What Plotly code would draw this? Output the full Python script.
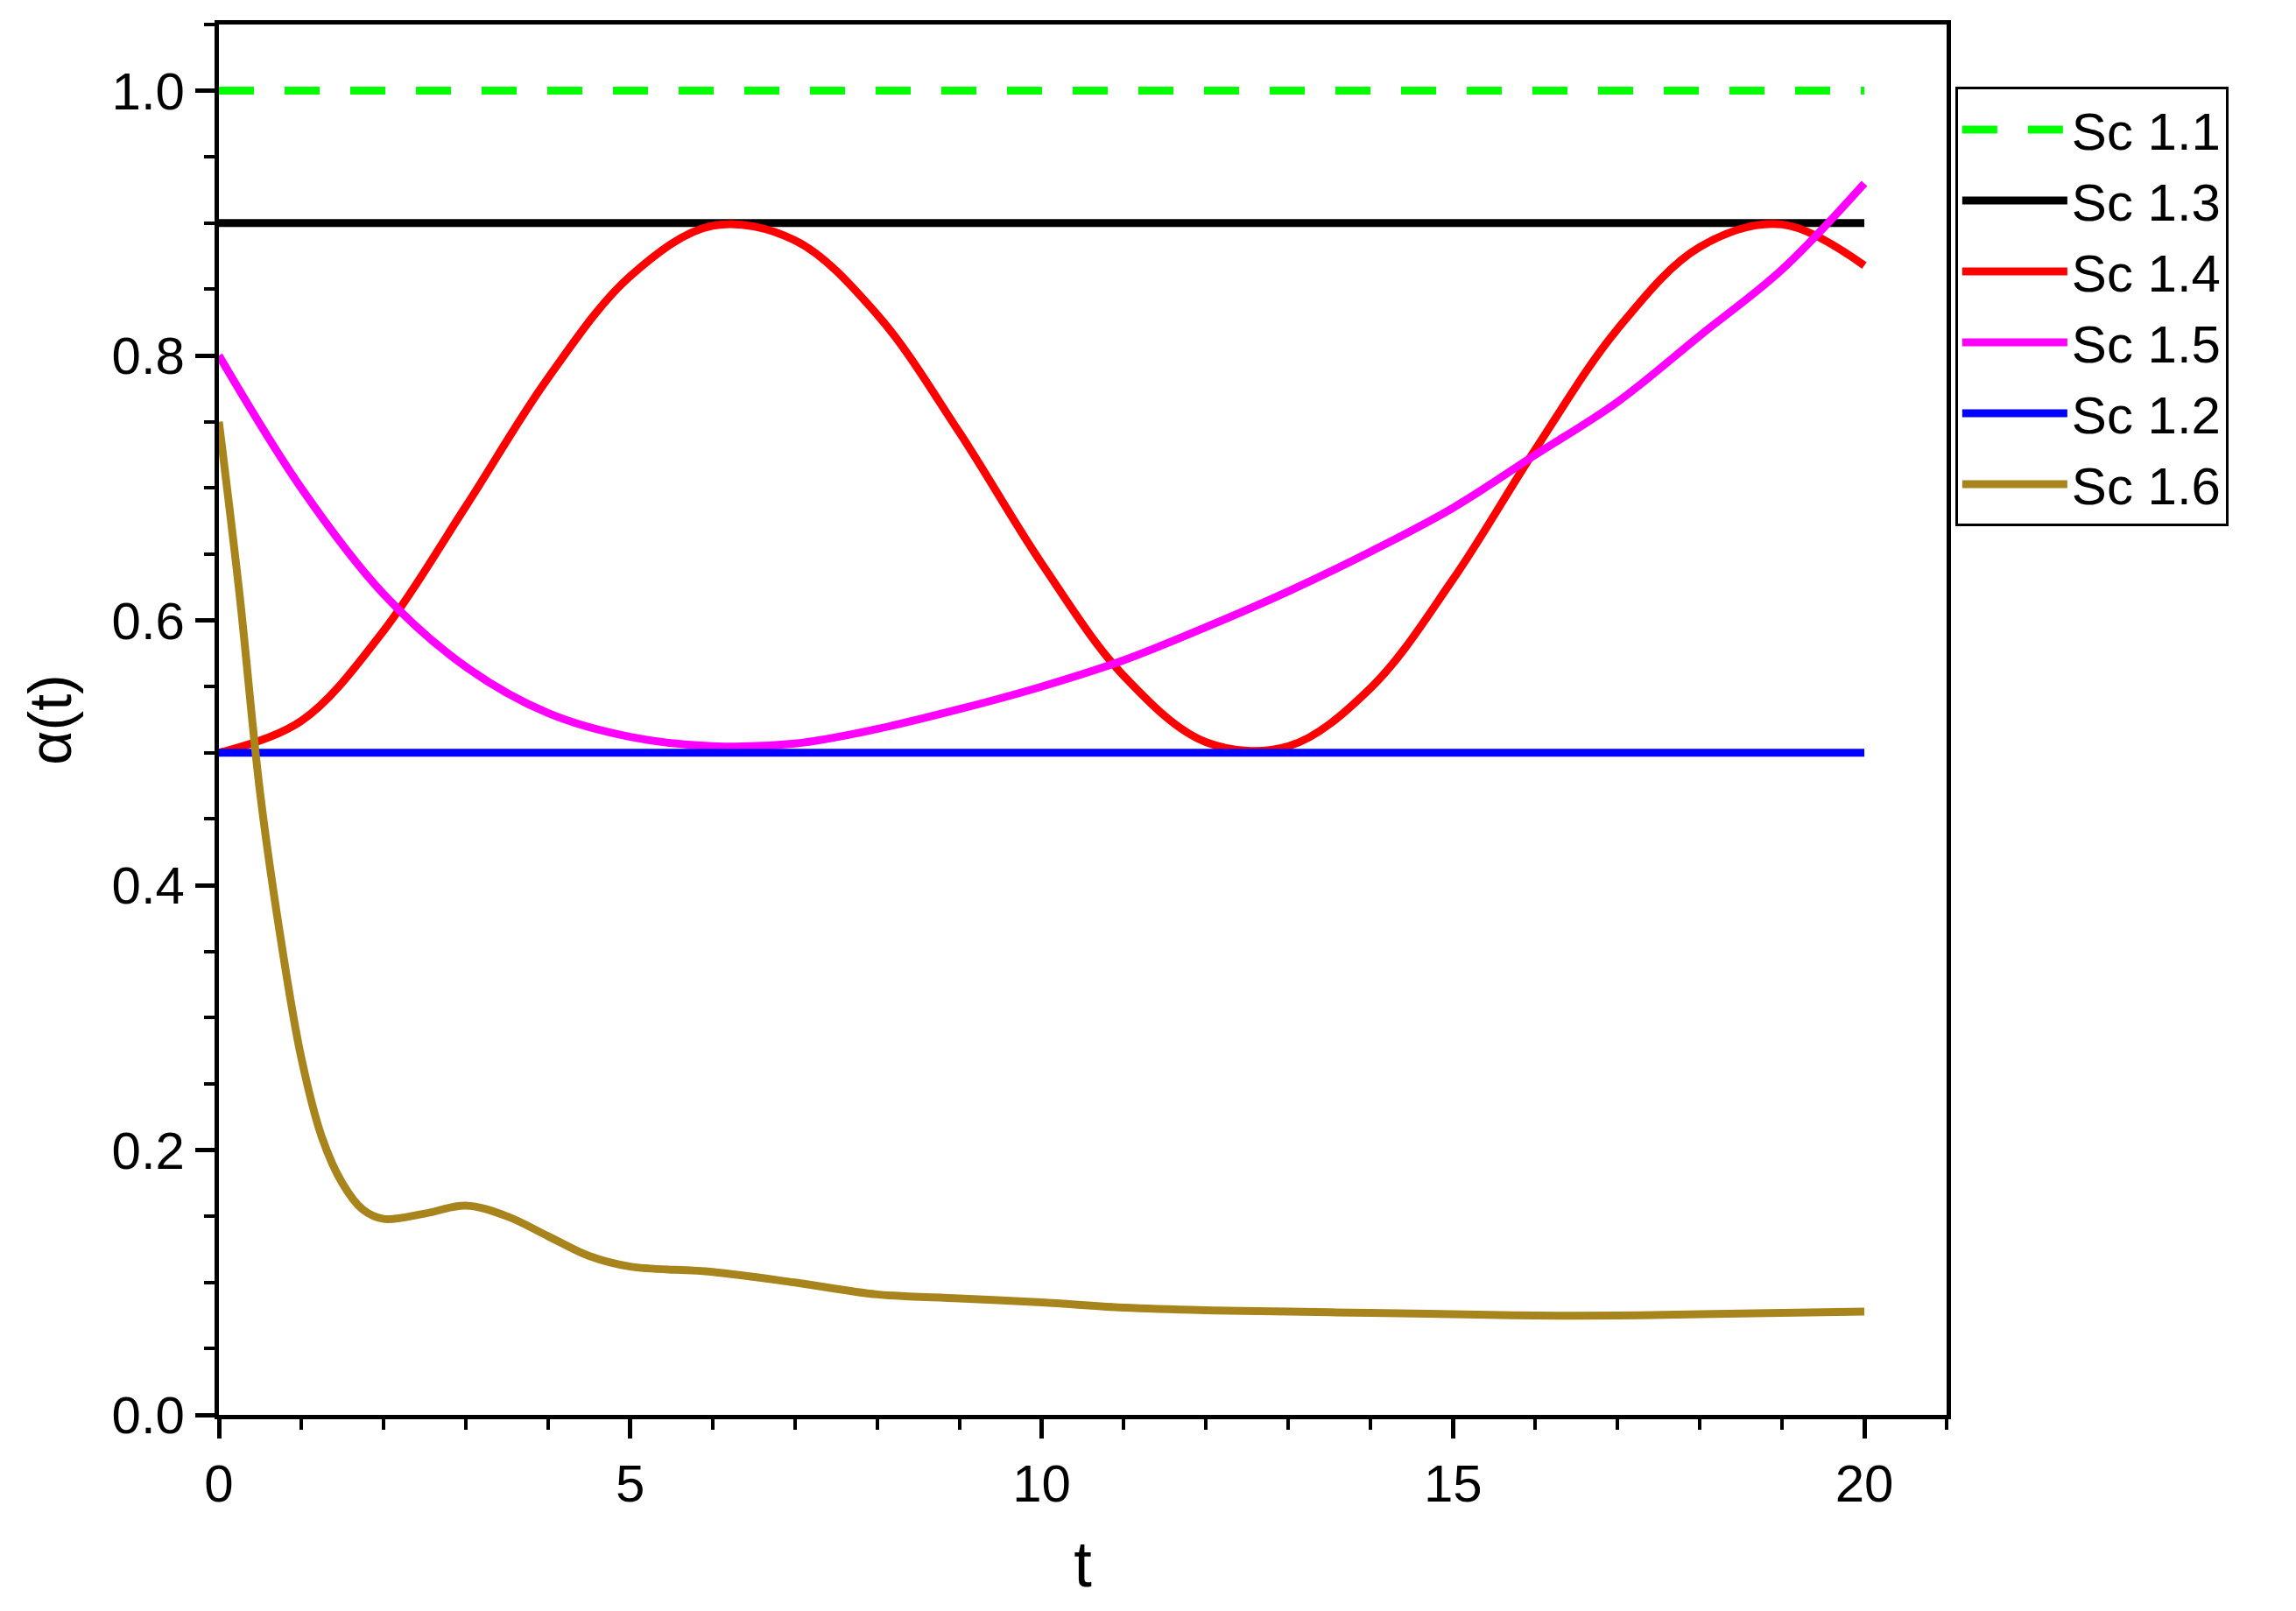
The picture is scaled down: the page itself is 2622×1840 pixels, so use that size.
import plotly.graph_objects as go

t_int = list(range(21))
red = [0.500,0.524,0.592,0.686,0.783,0.860,0.898,0.887,0.831,0.742,0.643,0.558,0.508,0.505,0.549,0.631,0.729,0.820,0.882,0.899,0.868]
mag = [0.80,0.70,0.62,0.565,0.53,0.512,0.505,0.507,0.518,0.533,0.55,0.57,0.595,0.622,0.652,0.685,0.725,0.765,0.815,0.865,0.93]
t_br = [0,0.25,0.5,0.75,1,1.25,1.5,1.75,2,2.5,3,3.5,4,4.5,5,6,7,8,9,10,11,12,13,14,15,16,17,18,19,20]
brown = [0.75,0.62,0.47,0.36,0.27,0.21,0.175,0.155,0.148,0.152,0.158,0.150,0.135,0.12,0.112,0.108,0.10,0.091,0.088,0.085,0.081,0.079,0.078,0.077,0.076,0.075,0.075,0.076,0.077,0.078]
t_flat = [0,20]
names = ["Sc 1.1","Sc 1.3","Sc 1.4","Sc 1.5","Sc 1.2","Sc 1.6"]

W = 9
fig = go.Figure()
fig.add_trace(go.Scatter(x=t_flat, y=[1.0,1.0], mode="lines", name=names[0], line=dict(color="#00ff00", width=W, dash="40px,35px")))
fig.add_trace(go.Scatter(x=t_flat, y=[0.9,0.9], mode="lines", name=names[1], line=dict(color="black", width=W)))
fig.add_trace(go.Scatter(x=t_int, y=red, mode="lines", name=names[2], line=dict(color="red", width=W, shape="spline")))
fig.add_trace(go.Scatter(x=t_int, y=mag, mode="lines", name=names[3], line=dict(color="#ff00ff", width=W, shape="spline")))
fig.add_trace(go.Scatter(x=t_flat, y=[0.5,0.5], mode="lines", name=names[4], line=dict(color="blue", width=W)))
fig.add_trace(go.Scatter(x=t_br, y=brown, mode="lines", name=names[5], line=dict(color="#a8841c", width=W, shape="spline")))

font = "Liberation Sans, Arial"
ax = dict(showgrid=False, zeroline=False, showline=True, linecolor="black", linewidth=5,
          ticks="outside", ticklen=22, tickwidth=5, tickcolor="black",
          tickfont=dict(size=60, family=font, color="black"))
fig.update_layout(
    width=2622, height=1840, plot_bgcolor="white", paper_bgcolor="white",
    margin=dict(l=242, r=2622-2215, t=20, b=1840-1608),
    xaxis=dict(ax, range=[0,21], tickvals=[0,5,10,15,20], mirror=True,
               minor=dict(dtick=1, ticks="outside", ticklen=12, tickwidth=4, tickcolor="black"),
               title=dict(text="t", font=dict(size=74, family=font, color="black"), standoff=35)),
    yaxis=dict(ax, range=[0,1.05], tickvals=[0,0.2,0.4,0.6,0.8,1.0], tickformat=".1f", mirror=True,
               minor=dict(dtick=0.05, ticks="outside", ticklen=12, tickwidth=4, tickcolor="black"),
               title=dict(text="α(t)", font=dict(size=68, family=font, color="black"), standoff=25)),
    legend=dict(x=1.005, y=0.955, xanchor="left", yanchor="top", bordercolor="black", borderwidth=3,
                font=dict(size=60, family=font, color="black"), itemwidth=120, tracegroupgap=0,
                bgcolor="white"),
)
fig.write_html("out.html")
